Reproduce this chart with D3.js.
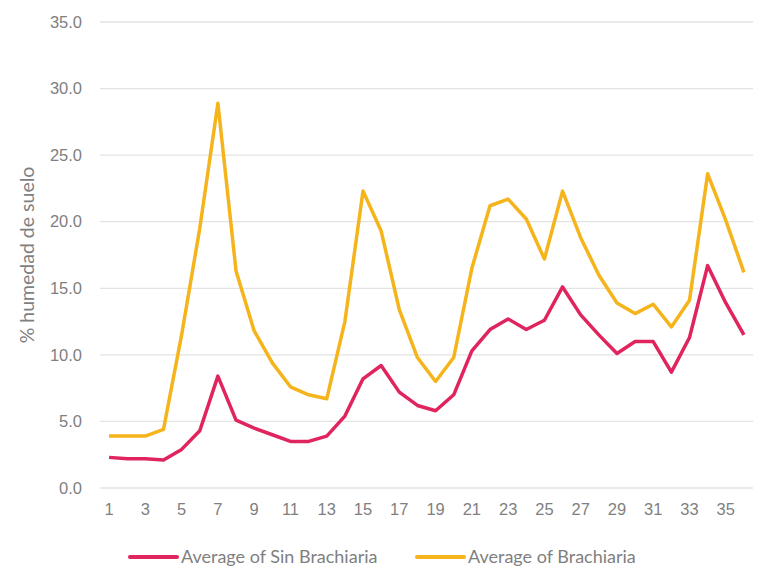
<!DOCTYPE html>
<html>
<head>
<meta charset="utf-8">
<script src="https://cdn.jsdelivr.net/npm/d3@7"></script>
<style>
  body { margin: 0; background: #fff; }
  svg { font-family: Lato, "Open Sans", sans-serif; }
</style>
</head>
<body>
<svg width="759" height="572"></svg>
<script>
// weeks 1..36
const weeks = d3.range(1, 37)

const sinBrachiaria = [2.3, 2.2, 2.2, 2.1, 2.9, 4.3, 8.4, 5.1, 4.5, 4.0, 3.5, 3.5,
  3.9, 5.4, 8.2, 9.2, 7.2, 6.2, 5.8, 7.0, 10.3, 11.9, 12.7, 11.9, 12.6, 15.1,
  13.0, 11.5, 10.1, 11.0, 11.0, 8.7, 11.3, 16.7, 13.9, 11.5]

const brachiaria = [3.9, 3.9, 3.9, 4.4, 11.5, 19.5, 28.9, 16.3, 11.8, 9.4, 7.6, 7.0,
  6.7, 12.5, 22.3, 19.3, 13.4, 9.8, 8.0, 9.8, 16.5, 21.2, 21.7, 20.2, 17.2, 22.3,
  18.8, 16.0, 13.9, 13.1, 13.8, 12.1, 14.1, 23.6, 20.1, 16.2]

const yTicks = [0, 5, 10, 15, 20, 25, 30, 35]
const xTickLabels = weeks.filter(d => d % 2 === 1)

const seriesNames = ['Average of Sin Brachiaria', 'Average of Brachiaria']
const colors = ['#e0245e', '#f5b41b']

const svg = d3.select('svg')
const plotLeft = 100, plotRight = 753, plotTop = 22, plotBottom = 488

const x = d3.scaleBand()
  .domain(weeks)
  .range([plotLeft, plotRight])

const y = d3.scaleLinear()
  .domain([0, 35])
  .range([plotBottom, plotTop])

// gridlines
svg.append('g')
  .selectAll('line')
  .data(yTicks)
  .join('line')
  .attr('x1', plotLeft)
  .attr('x2', plotRight)
  .attr('y1', d => y(d))
  .attr('y2', d => y(d))
  .style('stroke', '#e3e3e3')
  .style('stroke-width', '1.3px')

// y axis
const yAxis = svg.append('g')
  .attr('transform', `translate(${plotLeft - 18},0)`)
  .call(d3.axisLeft(y).tickValues(yTicks).tickFormat(d3.format('.1f')).tickSize(0))
yAxis.select('.domain').remove()
yAxis.selectAll('text')
  .style('font-size', '16.5px')
  .style('fill', '#7f7f7f')
  .attr('x', 0)

// x axis
const xAxis = svg.append('g')
  .attr('transform', `translate(0,${plotBottom + 12})`)
  .call(d3.axisBottom(x).tickValues(xTickLabels).tickSize(0))
xAxis.select('.domain').remove()
xAxis.selectAll('text')
  .style('font-size', '16.5px')
  .style('fill', '#7f7f7f')

// y label
svg.append('text')
  .attr('transform', 'translate(34,255) rotate(-90)')
  .attr('text-anchor', 'middle')
  .style('font-size', '19.5px')
  .style('fill', '#7f7f7f')
  .text('% humedad de suelo')

// lines
const line = d3.line()
  .x((d, i) => x(weeks[i]) + x.bandwidth() / 2)
  .y(d => y(d))

const allSeries = [sinBrachiaria, brachiaria]
svg.append('g')
  .selectAll('path')
  .data(allSeries)
  .join('path')
  .attr('d', d => line(d))
  .style('fill', 'none')
  .style('stroke', (d, i) => colors[i])
  .style('stroke-width', '3.5px')
  .style('stroke-linejoin', 'round')

// legend
const legendX = [130, 417]
const legend = svg.append('g')
  .selectAll('g')
  .data(seriesNames)
  .join('g')
  .attr('transform', (d, i) => `translate(${legendX[i]},557)`)
legend.append('line')
  .attr('x1', 0)
  .attr('x2', 47)
  .style('stroke', (d, i) => colors[i])
  .style('stroke-width', '4px')
  .style('stroke-linecap', 'round')
legend.append('text')
  .attr('x', 51)
  .attr('dy', '0.35em')
  .style('font-size', '18px')
  .style('fill', '#7f7f7f')
  .text(d => d)
</script>
</body>
</html>
